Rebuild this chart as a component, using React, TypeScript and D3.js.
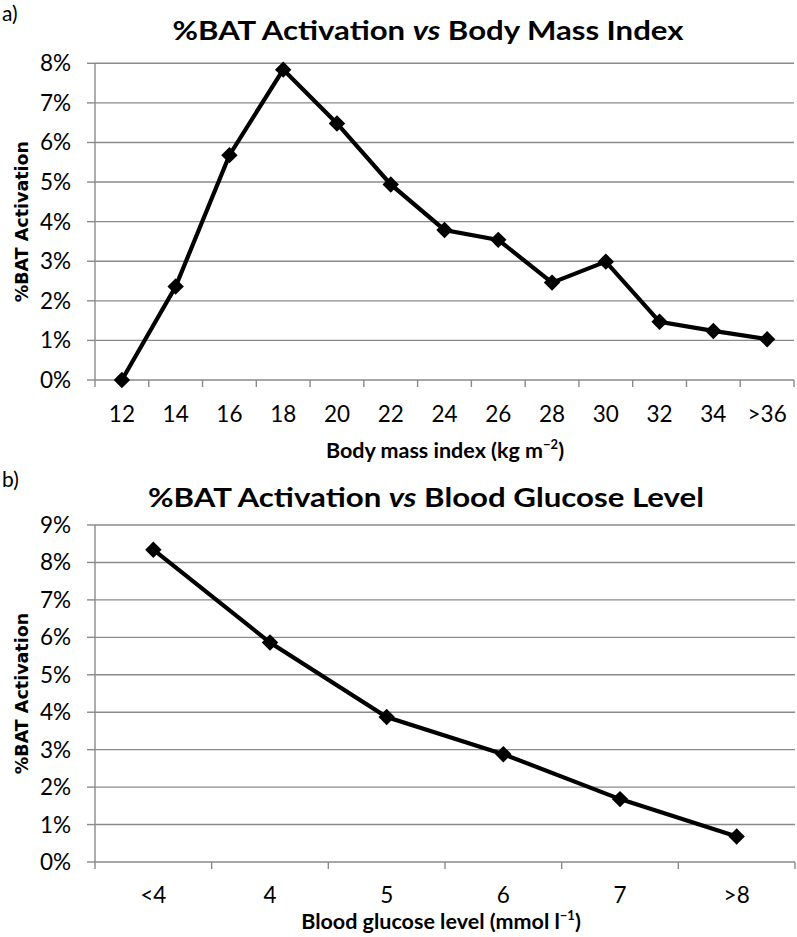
import React from 'react';
import * as d3 from 'd3';

const bmiCategories = ['12', '14', '16', '18', '20', '22', '24', '26', '28', '30', '32', '34', '>36'];
const bmiActivation = [0, 2.36, 5.68, 7.84, 6.48, 4.94, 3.79, 3.54, 2.46, 2.99, 1.47, 1.24, 1.03];
const bmiTicks = [0, 1, 2, 3, 4, 5, 6, 7, 8];

const glucoseCategories = ['<4', '4', '5', '6', '7', '>8'];
const glucoseActivation = [8.34, 5.86, 3.87, 2.88, 1.68, 0.68];
const glucoseTicks = [0, 1, 2, 3, 4, 5, 6, 7, 8, 9];

const TICK_FONT = 'Lato, "Open Sans", sans-serif';
const YTITLE_FONT = '"DejaVu Sans", Verdana, sans-serif';
const GRID = '#8a8a8a';

type PanelProps = {
  cats: string[];
  values: number[];
  ticks: number[];
  left: number;
  right: number;
  top: number;
  bottom: number;
  letter: string;
  letterY: number;
  titleA: string;
  titleB: string;
  titleX: number;
  titleY: number;
  titleW: number;
  xTitleMain: string;
  xTitleSup: string;
  xTitleX: number;
  xTitleY: number;
  tickLabelY: number;
};

function Panel(p: PanelProps) {
  const x = d3.scaleBand<string>().domain(p.cats).range([p.left, p.right]).padding(0);
  const yMax = p.ticks[p.ticks.length - 1];
  const y = d3.scaleLinear().domain([0, yMax]).range([p.bottom, p.top]);
  const line = d3
    .line<number>()
    .x((_, i) => (x(p.cats[i]) as number) + x.bandwidth() / 2)
    .y((v) => y(v));
  const marker = d3.symbol().type(d3.symbolSquare).size(135)();
  const boundaries = d3.range(p.cats.length + 1).map((i) => p.left + i * x.step());
  const midY = (p.top + p.bottom) / 2;

  return (
    <g>
      <text x={2} y={p.letterY} fontFamily={TICK_FONT} fontSize={21} fill="#000">
        {p.letter}
      </text>
      <text
        x={p.titleX}
        y={p.titleY}
        textAnchor="middle"
        fontFamily={TICK_FONT}
        fontWeight="bold"
        fontSize={26.5}
        textLength={p.titleW}
        lengthAdjust="spacingAndGlyphs"
        fill="#000"
      >
        {p.titleA}
        <tspan fontStyle="italic">vs</tspan>
        {p.titleB}
      </text>
      {p.ticks.map((t) => (
        <line key={'g' + t} x1={p.left} x2={p.right} y1={y(t)} y2={y(t)} stroke={GRID} strokeWidth={1.4} />
      ))}
      {p.ticks.map((t) => (
        <line key={'yt' + t} x1={p.left - 8} x2={p.left} y1={y(t)} y2={y(t)} stroke={GRID} strokeWidth={1.4} />
      ))}
      <line x1={p.left} x2={p.left} y1={p.top} y2={p.bottom} stroke={GRID} strokeWidth={1.4} />
      {boundaries.map((bx, i) => (
        <line key={'xt' + i} x1={bx} x2={bx} y1={p.bottom} y2={p.bottom + 7} stroke={GRID} strokeWidth={1.4} />
      ))}
      {p.ticks.map((t) => (
        <text
          key={'yl' + t}
          x={p.left - 24}
          y={y(t) + 8}
          textAnchor="end"
          fontFamily={TICK_FONT}
          fontSize={22.5}
          fill="#000"
        >
          {t + '%'}
        </text>
      ))}
      {p.cats.map((c) => (
        <text
          key={'xl' + c}
          x={(x(c) as number) + x.bandwidth() / 2}
          y={p.tickLabelY}
          textAnchor="middle"
          fontFamily={TICK_FONT}
          fontSize={22.5}
          fill="#000"
        >
          {c}
        </text>
      ))}
      <text
        transform={`translate(28,${midY}) rotate(-90)`}
        textAnchor="middle"
        fontFamily={YTITLE_FONT}
        fontWeight="bold"
        fontSize={17.5}
        fill="#000"
      >
        %BAT Activation
      </text>
      <text
        x={p.xTitleX}
        y={p.xTitleY}
        textAnchor="middle"
        fontFamily={TICK_FONT}
        fontWeight="bold"
        fontSize={21.5}
        fill="#000"
      >
        {p.xTitleMain}
        <tspan dy={-9} fontSize={13}>
          {p.xTitleSup}
        </tspan>
        <tspan dy={9}>)</tspan>
      </text>
      <path
        d={line(p.values) || ''}
        fill="none"
        stroke="#000"
        strokeWidth={4.2}
        strokeLinejoin="miter"
      />
      {p.values.map((v, i) => (
        <path
          key={'m' + i}
          d={marker || ''}
          transform={`translate(${(x(p.cats[i]) as number) + x.bandwidth() / 2},${y(v)}) rotate(45)`}
          fill="#000"
        />
      ))}
    </g>
  );
}

export default function App() {
  return (
    <svg
      width={797}
      height={937}
      style={{ position: 'absolute', left: 0, top: 0, background: '#fff' }}
    >
      <rect x={0} y={0} width={797} height={937} fill="#fff" />
      <Panel
        cats={bmiCategories}
        values={bmiActivation}
        ticks={bmiTicks}
        left={95}
        right={794}
        top={63.3}
        bottom={380}
        letter="a)"
        letterY={21}
        titleA="%BAT Activation "
        titleB=" Body Mass Index"
        titleX={428}
        titleY={40}
        titleW={511}
        xTitleMain="Body mass index (kg m"
        xTitleSup="−2"
        xTitleX={445}
        xTitleY={458}
        tickLabelY={421.5}
      />
      <Panel
        cats={glucoseCategories}
        values={glucoseActivation}
        ticks={glucoseTicks}
        left={95}
        right={795}
        top={525}
        bottom={862}
        letter="b)"
        letterY={487}
        titleA="%BAT Activation "
        titleB=" Blood Glucose Level"
        titleX={426}
        titleY={507}
        titleW={556}
        xTitleMain="Blood glucose level (mmol l"
        xTitleSup="−1"
        xTitleX={441}
        xTitleY={929}
        tickLabelY={903}
      />
    </svg>
  );
}
